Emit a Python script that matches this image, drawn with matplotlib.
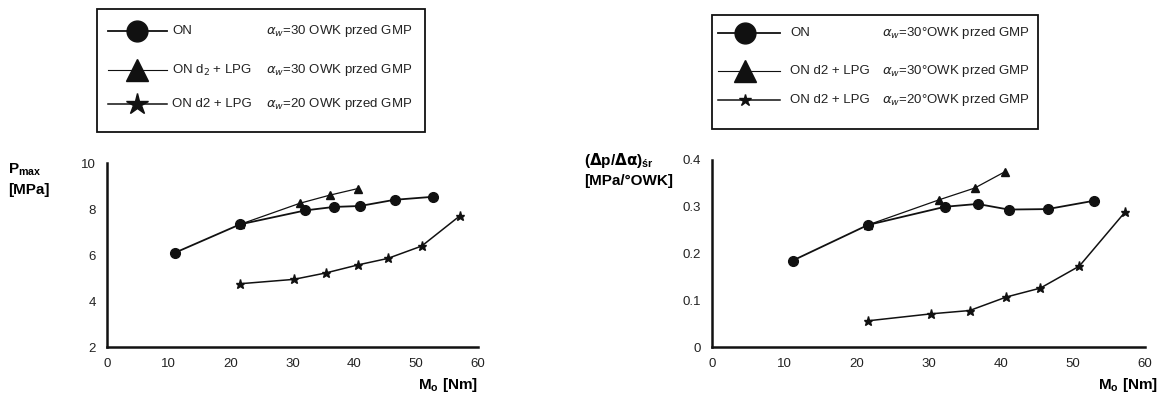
import matplotlib
matplotlib.use("Agg")
import matplotlib.pyplot as plt
from matplotlib.lines import Line2D
from matplotlib.patches import Rectangle

plt.rcParams['font.family'] = ['Liberation Sans', 'DejaVu Sans']

# ---- data: left panel (P_max [MPa]) ----
on_x_l = [11.0, 21.5, 32.1, 36.7, 40.9, 46.5, 52.7]
on_y_l = [6.10, 7.33, 7.94, 8.09, 8.13, 8.40, 8.53]
lpg30_x_l = [21.5, 31.2, 36.0, 40.6]
lpg30_y_l = [7.33, 8.25, 8.60, 8.89]
lpg20_x_l = [21.5, 30.2, 35.4, 40.6, 45.4, 50.9, 57.1]
lpg20_y_l = [4.75, 4.94, 5.22, 5.57, 5.85, 6.39, 7.71]

# ---- data: right panel ((dp/da)_sr [MPa/°OWK]) ----
on_x_r = [11.2, 21.6, 32.3, 36.8, 41.1, 46.5, 53.0]
on_y_r = [0.185, 0.261, 0.300, 0.306, 0.294, 0.295, 0.313]
lpg30_x_r = [21.6, 31.5, 36.4, 40.6]
lpg30_y_r = [0.261, 0.315, 0.340, 0.375]
lpg20_x_r = [21.6, 30.4, 35.7, 40.8, 45.5, 50.9, 57.2]
lpg20_y_r = [0.056, 0.071, 0.078, 0.107, 0.126, 0.173, 0.288]

x_ticks = [0, 10, 20, 30, 40, 50, 60]
y_ticks_l = [2, 4, 6, 8, 10]
y_ticks_r = [0, 0.1, 0.2, 0.3, 0.4]
y_ticklabels_r = ['0', '0.1', '0.2', '0.3', '0.4']

labels_l = ['ON', 'ON d$_2$ + LPG', 'ON d2 + LPG']
alphas_l = [r'$\alpha_w$=30 OWK przed GMP', r'$\alpha_w$=30 OWK przed GMP', r'$\alpha_w$=20 OWK przed GMP']
labels_r = ['ON', 'ON d2 + LPG', 'ON d2 + LPG']
alphas_r = [r'$\alpha_w$=30°OWK przed GMP', r'$\alpha_w$=30°OWK przed GMP', r'$\alpha_w$=20°OWK przed GMP']

W, H = 1162, 403
fig = plt.figure(figsize=(W / 100, H / 100), dpi=100)
fig.patch.set_facecolor('white')

def fx(px):
    return px / W

def fy(py):
    return 1 - py / H

ax1 = fig.add_axes([fx(107), fy(347), fx(478) - fx(107), fy(163) - fy(347)])
ax2 = fig.add_axes([fx(712), fy(347), fx(1145) - fx(712), fy(160) - fy(347)])

c = '#111111'
def style(ax):
    for s in ['top', 'right']:
        ax.spines[s].set_visible(False)
    for s in ['left', 'bottom']:
        ax.spines[s].set_linewidth(1.8)
        ax.spines[s].set_color(c)
    ax.tick_params(length=0, labelsize=9.5, colors='#222222', pad=8)
    ax.set_xlim(0, 60)
    ax.set_xticks(x_ticks)

style(ax1)
ax1.set_ylim(2, 10)
ax1.set_yticks(y_ticks_l)
style(ax2)
ax2.set_ylim(0, 0.4)
ax2.set_yticks(y_ticks_r)
ax2.set_yticklabels(y_ticklabels_r)

def draw(ax, ox, oy, tx, ty, sx, sy):
    ax.plot(ox, oy, '-', color=c, lw=1.3, marker='o', ms=7, zorder=3)
    ax.plot(tx, ty, '-', color=c, lw=0.9, marker='^', ms=6, zorder=3)
    ax.plot(sx, sy, '-', color=c, lw=1.1, marker='*', ms=6.5, zorder=3)

draw(ax1, on_x_l, on_y_l, lpg30_x_l, lpg30_y_l, lpg20_x_l, lpg20_y_l)
draw(ax2, on_x_r, on_y_r, lpg30_x_r, lpg30_y_r, lpg20_x_r, lpg20_y_r)

# axis labels
fig.text(fx(8), fy(170), r'P$_{\mathregular{max}}$', fontsize=11, fontweight='bold', va='center', ha='left')
fig.text(fx(8), fy(190), '[MPa]', fontsize=11, fontweight='bold', va='center', ha='left')
fig.text(fx(478), fy(385), r'M$_{\mathregular{o}}$ [Nm]', fontsize=11, fontweight='bold', va='center', ha='right')
fig.text(fx(584), fy(160), r'($\mathbf{\Delta}$p/$\mathbf{\Delta\alpha}$)$_{\mathregular{śr}}$', fontsize=11, fontweight='bold', va='center', ha='left')
fig.text(fx(584), fy(181), '[MPa/°OWK]', fontsize=11, fontweight='bold', va='center', ha='left')
fig.text(fx(1158), fy(385), r'M$_{\mathregular{o}}$ [Nm]', fontsize=11, fontweight='bold', va='center', ha='right')

# legends (drawn manually in figure pixels)
def legend(box, rows, line_x, mk_x, lab_x, alp_right, labels, alphas, sizes):
    x0, y0, x1, y1 = box
    fig.patches.append(Rectangle((fx(x0), fy(y1)), fx(x1) - fx(x0), fy(y0) - fy(y1),
                                 transform=fig.transFigure, fill=False, ec=c, lw=1.3))
    mks = ['o', '^', '*']
    lws = [1.3, 0.8, 1.1]
    for i, yy in enumerate(rows):
        fig.add_artist(Line2D([fx(line_x[0]), fx(line_x[1])], [fy(yy), fy(yy)], color=c, lw=lws[i],
                              transform=fig.transFigure))
        fig.add_artist(Line2D([fx(mk_x)], [fy(yy)], color=c, marker=mks[i], ms=sizes[i], ls='none',
                              transform=fig.transFigure))
        fig.text(fx(lab_x), fy(yy), labels[i], fontsize=9.5, va='center', ha='left', color='#222222')
        fig.text(fx(alp_right), fy(yy), alphas[i], fontsize=9.5, va='center', ha='right', color='#222222')

legend((97, 9, 425, 132), [31, 70, 104], (108, 167), 137, 172, 412,
       labels_l, alphas_l, [15, 16, 16])
legend((712, 15, 1038, 129), [33, 71, 100], (718, 780), 745, 790, 1030,
       labels_r, alphas_r, [15, 16, 9])

fig.savefig('out.png', dpi=100, facecolor='white')
